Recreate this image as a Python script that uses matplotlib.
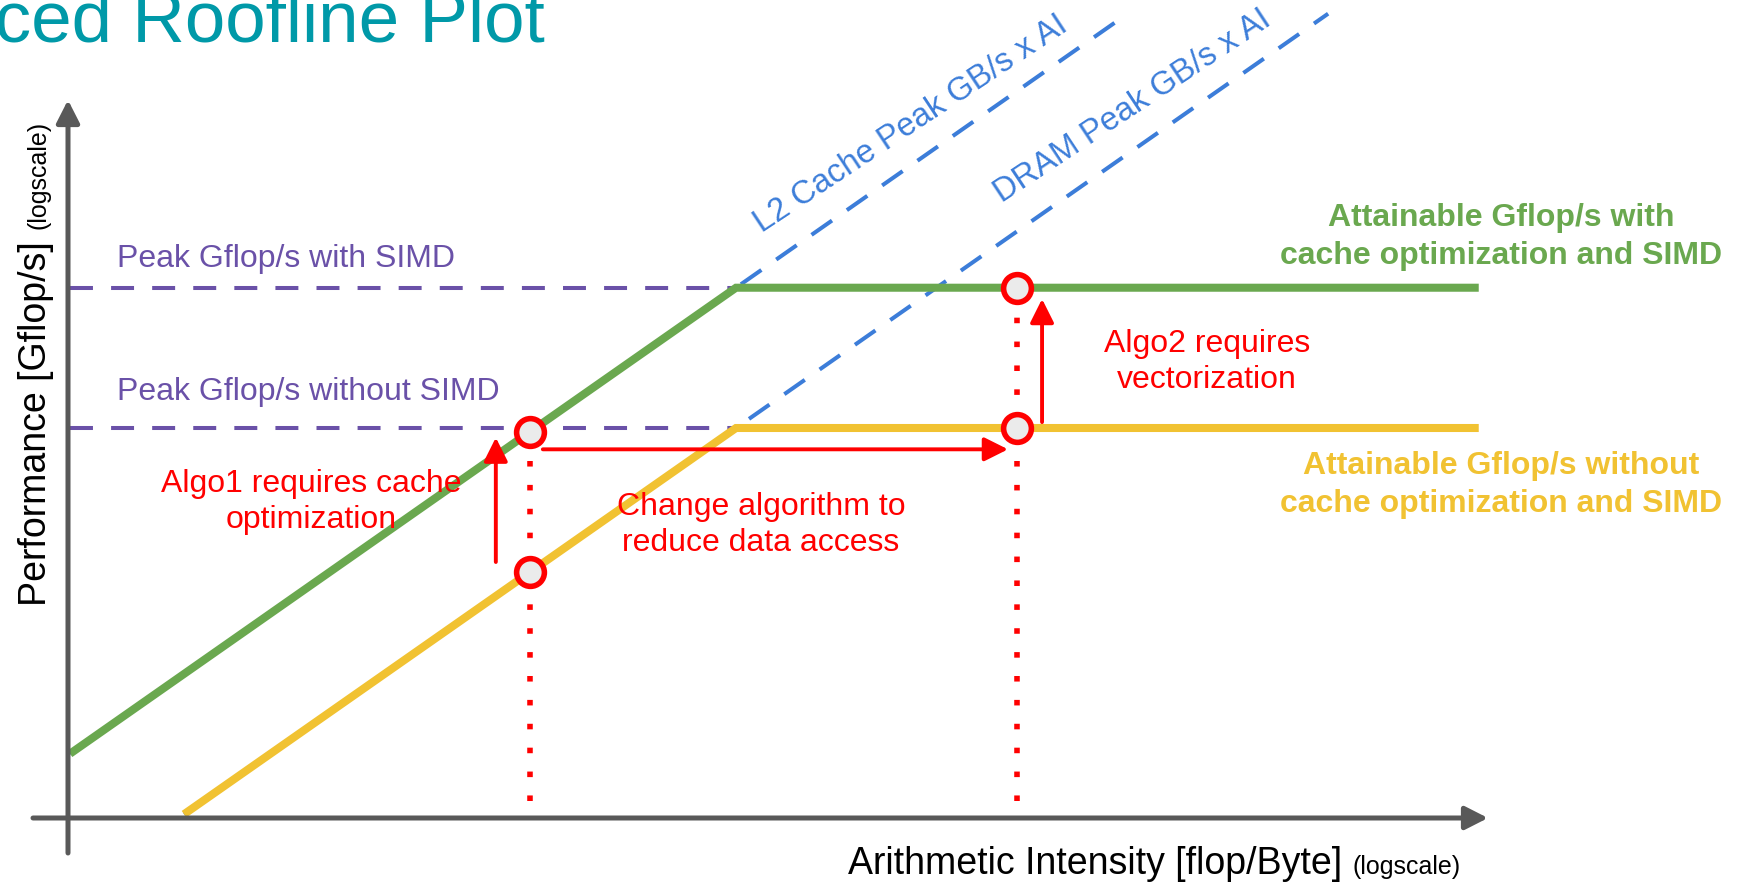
import numpy as np
import matplotlib
matplotlib.use("Agg")
import matplotlib.pyplot as plt

plt.rcParams['font.family'] = ['Liberation Sans', 'DejaVu Sans']

# roofline values (arbitrary units)
ai_ridge = 10.0
peak_labels = ["Peak Gflop/s with SIMD", "Peak Gflop/s without SIMD"]
peak_gflops = [200.0, 50.0]          # with SIMD, without SIMD
bw_labels = ["L2 Cache Peak GB/s x AI", "DRAM Peak GB/s x AI"]
bw_gbs = [20.0, 5.0]                 # L2, DRAM
roof_ai_start = [0.1, 0.22]          # green, yellow roofline start
roof_ai_end = 1700.0
bw_ai_end = [150.0, 600.0]           # end of the dashed bandwidth lines
peak_ai_start = 0.1

algo_ai = [2.4, 70.0]
dotted_floor = 1.25

# red arrows: (ai0, perf0, ai1, perf1)
arrows = [(1.9, 13.3, 1.9, 45.5),
          (2.63, 40.5, 65.6, 40.5),
          (83.0, 53.0, 83.0, 179.0)]

W, H = 1743, 882
X_DEC, Y_DEC = 333.0, 233.0   # pixels per decade

def ai_at(px):
    return ai_ridge * 10 ** ((px - 736) / X_DEC)

def perf_at(py):
    return peak_gflops[1] * 10 ** (-(py - 428) / Y_DEC)

green = "#6AA84F"
yellow = "#F1C232"
blue = "#3C7DD9"
purple = "#6A51A8"
red = "#FF0000"
gray = "#595959"

fig = plt.figure(figsize=(W / 100, H / 100), dpi=100)
ax = fig.add_axes([0, 0, 1, 1])
ax.set_xscale('log')
ax.set_yscale('log')
ax.set_xlim(ai_at(0), ai_at(W))
ax.set_ylim(perf_at(H), perf_at(0))
ax.axis('off')

# bandwidth lines (dashed blue)
for bw, a0, a1 in zip(bw_gbs, roof_ai_start, bw_ai_end):
    ax.plot([a0, a1], [bw * a0, bw * a1], color=blue, lw=2.9,
            dashes=(6.2, 4.5), zorder=1)

# peak lines (dashed purple)
for p in peak_gflops:
    ax.plot([peak_ai_start, ai_ridge], [p, p], color=purple, lw=2.9,
            dashes=(5.7, 4.5), zorder=1)

# attainable rooflines
for bw, p, a0, c in zip(bw_gbs, peak_gflops, roof_ai_start, [green, yellow]):
    ai = np.array([a0, p / bw, roof_ai_end])
    ax.plot(ai, np.minimum(bw * ai, p), color=c, lw=5.8, zorder=2,
            solid_joinstyle='miter', solid_capstyle='butt')

# algorithms: dotted verticals and points on the rooflines
algo_pts = []
for a in algo_ai:
    top = min(bw_gbs[0] * a, peak_gflops[0])
    low = min(bw_gbs[1] * a, peak_gflops[1])
    ax.plot([a, a], [dotted_floor, top], color=red, lw=4.0,
            linestyle=(0, (1, 3.3)), zorder=3)
    algo_pts += [(a, top), (a, low)]
for a, p in algo_pts:
    ax.plot(a, p, 'o', ms=20, mfc="#EBEBEB", mec=red, mew=4.0, zorder=5)

for a0, p0, a1, p1 in arrows:
    ax.annotate('', xy=(a1, p1), xytext=(a0, p0),
                arrowprops=dict(arrowstyle='-|>,head_length=0.6,head_width=0.3',
                                mutation_scale=24, lw=2.8, color=red,
                                shrinkA=0, shrinkB=0), zorder=4)

# axes arrows
for start, end in [((33, 818), (1488, 818)), ((68, 853), (68, 100))]:
    ax.annotate('', xy=(end[0], H - end[1]), xytext=(start[0], H - start[1]),
                xycoords='figure pixels', textcoords='figure pixels',
                arrowprops=dict(arrowstyle='-|>,head_length=0.55,head_width=0.28',
                                mutation_scale=25, lw=3.6, color=gray,
                                shrinkA=0, shrinkB=0))

def ftext(x, y, s, **kw):
    fig.text(x / W, 1 - y / H, s, **kw)

ftext(545, 42, "Advanced Roofline Plot", fontsize=52.5, color="#0099A8",
      ha='right', va='baseline')

# axis labels
ftext(848, 874, "Arithmetic Intensity [flop/Byte]", fontsize=27, color="black",
      ha='left', va='baseline')
ftext(1353, 874, "(logscale)", fontsize=18, color="black", ha='left', va='baseline')
ftext(46, 606, "Performance [Gflop/s]", fontsize=27, color="black", rotation=90,
      rotation_mode='anchor', ha='left', va='baseline')
ftext(46, 229, "(logscale)", fontsize=18, color="black", rotation=90,
      rotation_mode='anchor', ha='left', va='baseline')

# peak labels
for s, y in zip(peak_labels, [267, 400]):
    ftext(117, y, s, fontsize=23, color=purple, ha='left', va='baseline')

# bandwidth labels
for s, xy in zip(bw_labels, [(762, 233), (1002, 203)]):
    ftext(xy[0], xy[1], s, fontsize=23.5, color=blue, rotation=33.5,
          rotation_mode='anchor', ha='left', va='baseline')

ftext(1501, 237, "Attainable Gflop/s with\ncache optimization and SIMD",
      fontsize=23, color=green, fontweight='bold', ha='center', va='center',
      linespacing=1.36)
ftext(1501, 485, "Attainable Gflop/s without\ncache optimization and SIMD",
      fontsize=23, color=yellow, fontweight='bold', ha='center', va='center',
      linespacing=1.32)

ftext(311, 502, "Algo1 requires cache\noptimization", fontsize=23, color=red,
      ha='center', va='center', linespacing=1.3)
ftext(761, 525, "Change algorithm to\nreduce data access", fontsize=23, color=red,
      ha='center', va='center', linespacing=1.3)
ftext(1207, 362, "Algo2 requires\nvectorization", fontsize=23, color=red,
      ha='center', va='center', linespacing=1.3)

fig.savefig("out.png", dpi=100)
